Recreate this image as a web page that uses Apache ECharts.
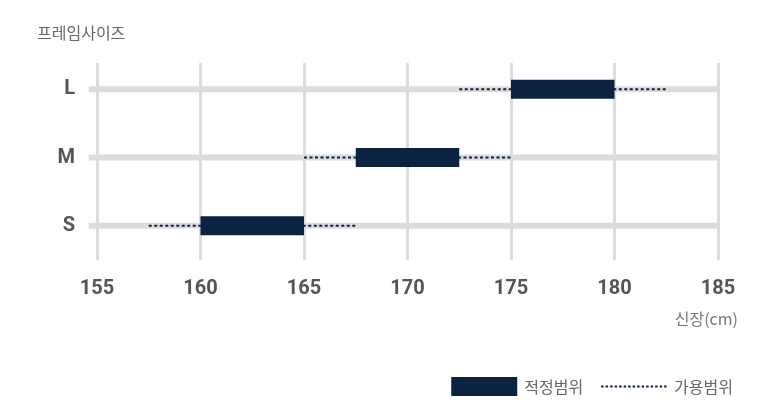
<!DOCTYPE html>
<html>
<head>
<meta charset="utf-8">
<script src="https://cdn.jsdelivr.net/npm/echarts@6/dist/echarts.min.js"></script>
<style>html,body{margin:0;padding:0;background:#fff;}#c{width:778px;height:413px;}</style>
</head>
<body>
<div id="c"></div>
<script>
const categories = ['S', 'M', 'L'];
const fitMin = [160, 167.5, 175];
const fitMax = [165, 172.5, 180];
const usableMin = [157.5, 165, 172.5];
const usableMax = [167.5, 175, 182.5];
const trackStart = 154.6;
const trackEnd = 185;
const xMin = 155, xMax = 185, xStep = 5;

const NAVY = '#0b2341';
const GRID = '#dcdcdc';
const KR = '"Noto Sans CJK KR", "Noto Sans", sans-serif';
const NUM = 'Roboto, "Noto Sans", sans-serif';

const trackData = categories.map((c, i) => [i, trackStart, trackEnd]);
const usableData = categories.map((c, i) => [i, usableMin[i], usableMax[i]]);
const fitData = categories.map((c, i) => [i, fitMin[i], fitMax[i]]);

function lineItem(width, color, dash) {
  return function (params, api) {
    const p1 = api.coord([api.value(1), api.value(0)]);
    const p2 = api.coord([api.value(2), api.value(0)]);
    return {
      type: 'line',
      shape: { x1: p1[0], y1: p1[1], x2: p2[0], y2: p2[1] },
      style: { stroke: color, lineWidth: width, lineDash: dash || null }
    };
  };
}

const chart = echarts.init(document.getElementById('c'), null, { renderer: 'canvas' });
chart.setOption({
  animation: false,
  backgroundColor: '#fff',
  title: [
    { text: '프레임사이즈', left: 32, top: 20, textStyle: { fontFamily: KR, fontSize: 16, fontWeight: 'normal', color: '#666' } },
    { text: '신장(cm)', right: 35, top: 306, textStyle: { fontFamily: KR, fontSize: 16, fontWeight: 'normal', color: '#777' } }
  ],
  legend: {
    top: 372, right: 40,
    itemWidth: 66, itemHeight: 19, itemGap: 17,
    textStyle: { fontFamily: KR, fontSize: 16, color: '#666', padding: [0, 0, 0, 2] },
    data: [
      { name: '적정범위', icon: 'rect' },
      { name: '가용범위', itemStyle: { opacity: 0, color: 'transparent', borderWidth: 0 } }
    ]
  },
  grid: [
    { left: 97, right: 60, top: 63, bottom: 153 },
    { left: 97, right: 60, top: 55, bottom: 153 }
  ],
  xAxis: [
    {
      gridIndex: 0, type: 'value', min: xMin, max: xMax, interval: xStep,
      axisLine: { show: false }, axisTick: { show: false },
      splitLine: { show: true, lineStyle: { color: GRID, width: 3 } },
      axisLabel: { margin: 19, fontFamily: NUM, fontSize: 20, fontWeight: 'bold', color: '#555' }
    },
    {
      gridIndex: 1, type: 'value', min: xMin, max: xMax, interval: xStep, show: false,
      splitLine: { show: false }
    }
  ],
  yAxis: [
    { gridIndex: 0, type: 'value', show: false, splitLine: { show: false } },
    {
      gridIndex: 1, type: 'category', data: categories,
      axisLine: { show: false }, axisTick: { show: false }, splitLine: { show: false },
      axisLabel: { margin: 22, fontFamily: NUM, fontSize: 20, fontWeight: 'bold', color: '#555' }
    }
  ],
  series: [
    {
      name: 'track', type: 'custom', xAxisIndex: 1, yAxisIndex: 1,
      data: trackData, encode: { x: [1, 2], y: 0 }, z: 1, silent: true,
      renderItem: lineItem(6, GRID)
    },
    {
      name: '가용범위선', type: 'custom', xAxisIndex: 1, yAxisIndex: 1,
      data: usableData, encode: { x: [1, 2], y: 0 }, z: 2, silent: true,
      renderItem: lineItem(2, NAVY, [3, 2.5])
    },
    {
      name: '적정범위', type: 'custom', xAxisIndex: 1, yAxisIndex: 1,
      data: fitData, encode: { x: [1, 2], y: 0 }, z: 3,
      itemStyle: { color: NAVY },
      renderItem: function (params, api) {
        const p1 = api.coord([api.value(1), api.value(0)]);
        const p2 = api.coord([api.value(2), api.value(0)]);
        const h = 19;
        return {
          type: 'rect',
          shape: { x: p1[0], y: p1[1] - h / 2, width: p2[0] - p1[0], height: h },
          style: { fill: NAVY }
        };
      }
    },
    {
      name: '가용범위', type: 'line', xAxisIndex: 1, yAxisIndex: 1, data: [],
      symbol: 'none', showSymbol: false,
      itemStyle: { color: NAVY },
      lineStyle: { color: NAVY, width: 2, type: [2.5, 2] }
    }
  ]
});
</script>
</body>
</html>
